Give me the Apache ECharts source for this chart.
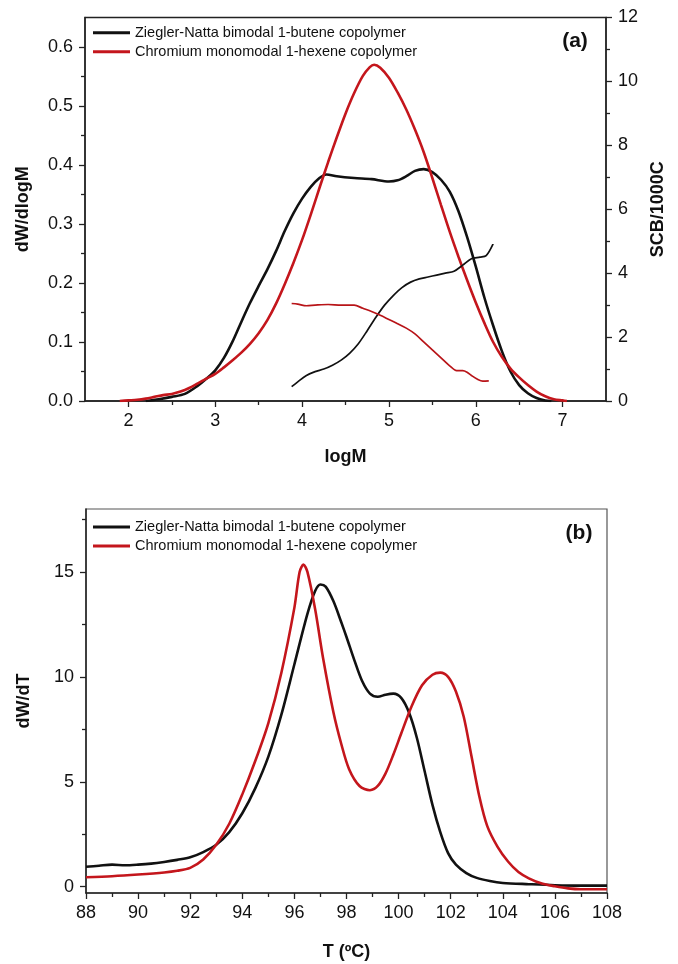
<!DOCTYPE html>
<html>
<head>
<meta charset="utf-8">
<script src="https://cdn.jsdelivr.net/npm/echarts@6/dist/echarts.min.js"></script>
<style>
html,body{margin:0;padding:0;background:#fff;}
#chart{width:678px;height:964px;}
</style>
</head>
<body>
<div id="chart"></div>
<script>
// ---------- DATA ----------
const seriesNames = ['Ziegler-Natta bimodal 1-butene copolymer', 'Chromium monomodal 1-hexene copolymer'];

// Panel (a): molecular weight distribution dW/dlogM vs logM
const znMwd = [[2.2,0],[2.35,0.003],[2.5,0.007],[2.65,0.012],[2.8,0.026],[2.9,0.038],[3.0,0.052],[3.1,0.073],[3.2,0.101],[3.3,0.134],[3.4,0.166],[3.5,0.195],[3.6,0.223],[3.7,0.254],[3.8,0.288],[3.9,0.318],[4.0,0.343],[4.1,0.363],[4.2,0.378],[4.28,0.384],[4.4,0.381],[4.6,0.378],[4.8,0.376],[5.0,0.372],[5.1,0.374],[5.2,0.381],[5.3,0.39],[5.4,0.393],[5.5,0.388],[5.6,0.375],[5.7,0.355],[5.8,0.322],[5.9,0.278],[6.0,0.228],[6.1,0.175],[6.2,0.128],[6.3,0.085],[6.4,0.05],[6.5,0.027],[6.6,0.013],[6.7,0.005],[6.8,0.001],[6.87,0]];
const crMwd = [[1.9,0],[2.0,0.001],[2.1,0.002],[2.2,0.004],[2.3,0.007],[2.4,0.01],[2.5,0.012],[2.6,0.016],[2.7,0.022],[2.8,0.03],[2.9,0.038],[3.0,0.046],[3.1,0.057],[3.2,0.069],[3.3,0.082],[3.4,0.097],[3.5,0.115],[3.6,0.137],[3.7,0.165],[3.8,0.198],[3.9,0.234],[4.0,0.273],[4.1,0.316],[4.2,0.361],[4.3,0.405],[4.4,0.447],[4.5,0.487],[4.6,0.522],[4.7,0.551],[4.78,0.566],[4.83,0.57],[4.9,0.565],[5.0,0.548],[5.1,0.523],[5.2,0.494],[5.3,0.46],[5.4,0.422],[5.5,0.378],[5.6,0.332],[5.7,0.287],[5.8,0.245],[5.9,0.205],[6.0,0.167],[6.1,0.132],[6.2,0.1],[6.3,0.075],[6.4,0.055],[6.5,0.04],[6.6,0.027],[6.7,0.016],[6.8,0.008],[6.9,0.003],[7.0,0.001],[7.05,0]];
// Panel (a): short chain branching SCB/1000C vs logM (right axis)
const znScb = [[3.88,0.45],[3.95,0.6],[4.05,0.8],[4.15,0.92],[4.25,1.0],[4.35,1.12],[4.45,1.28],[4.55,1.5],[4.65,1.8],[4.75,2.2],[4.85,2.62],[4.95,3.0],[5.05,3.3],[5.15,3.55],[5.25,3.72],[5.35,3.82],[5.45,3.88],[5.55,3.94],[5.65,4.0],[5.75,4.06],[5.85,4.25],[5.95,4.45],[6.05,4.5],[6.12,4.55],[6.2,4.92]];
const crScb = [[3.88,3.05],[3.95,3.03],[4.05,2.98],[4.15,3.0],[4.3,3.02],[4.45,3.0],[4.6,3.0],[4.7,2.9],[4.8,2.8],[4.9,2.68],[5.0,2.55],[5.1,2.42],[5.2,2.28],[5.3,2.1],[5.4,1.85],[5.5,1.6],[5.6,1.35],[5.7,1.1],[5.78,0.95],[5.85,0.95],[5.9,0.9],[5.95,0.8],[6.02,0.68],[6.08,0.62],[6.15,0.63]];

// Panel (b): TREF dW/dT vs T
const znTref = [[88,0.95],[88.5,1.0],[89,1.05],[89.5,1.02],[90,1.05],[90.5,1.1],[91,1.18],[91.5,1.28],[92,1.4],[92.5,1.65],[93,2.0],[93.5,2.6],[94,3.5],[94.5,4.7],[95,6.2],[95.5,8.2],[96,10.6],[96.5,13.0],[96.8,14.1],[97,14.4],[97.2,14.3],[97.5,13.6],[97.8,12.6],[98,11.9],[98.3,10.8],[98.6,9.8],[98.9,9.2],[99.2,9.05],[99.5,9.15],[99.8,9.2],[100.1,9.0],[100.4,8.3],[100.7,7.1],[101.0,5.5],[101.3,3.9],[101.6,2.6],[101.9,1.6],[102.2,1.05],[102.6,0.65],[103,0.42],[103.5,0.27],[104,0.18],[105,0.12],[106,0.07],[107,0.05],[108,0.05]];
const crTref = [[88,0.45],[89,0.5],[90,0.58],[91,0.68],[91.5,0.76],[92,0.9],[92.5,1.3],[93,2.0],[93.5,3.0],[94,4.4],[94.5,6.0],[95,7.8],[95.5,10.2],[96,13.3],[96.2,15.0],[96.35,15.35],[96.5,15.0],[96.8,13.2],[97.1,10.9],[97.5,8.3],[97.8,6.8],[98.1,5.6],[98.5,4.8],[98.9,4.6],[99.2,4.8],[99.5,5.4],[99.8,6.3],[100.1,7.3],[100.5,8.6],[100.9,9.6],[101.3,10.1],[101.6,10.2],[101.9,10.0],[102.2,9.3],[102.5,8.1],[102.8,6.2],[103.1,4.3],[103.4,2.9],[103.8,1.9],[104.2,1.2],[104.6,0.7],[105,0.4],[105.5,0.15],[106,0.02],[106.5,-0.08],[107,-0.12],[108,-0.12]];

// Tick values
const aXLabels = [2,3,4,5,6,7];
const aXMinor = [2.5,3.5,4.5,5.5,6.5];
const aYLabels = [0,0.1,0.2,0.3,0.4,0.5,0.6];
const aYMinor = [0.05,0.15,0.25,0.35,0.45,0.55];
const bYLabels = [0,5,10,15];
const bYMinor = [2.5,7.5,12.5,17.5];

// ---------- CHART ----------
const FONT = '"Liberation Sans", Arial, sans-serif';
const BLACK = '#111111';
const RED = '#c4161c';
const AX = '#222222';
const LABEL_SIZE = 18;

const chart = echarts.init(document.getElementById('chart'), null, {renderer:'canvas'});

function baseAxis(extra){
  return Object.assign({
    type:'value',
    splitLine:{show:false},
    axisLine:{show:true, onZero:false, lineStyle:{color:AX, width:1.5}},
    axisTick:{show:true, inside:false, length:6, lineStyle:{color:AX, width:1.3}},
    axisLabel:{color:'#111', fontSize:LABEL_SIZE, fontFamily:FONT},
    nameTextStyle:{color:'#111', fontSize:18, fontWeight:'bold', fontFamily:FONT}
  }, extra);
}
function minorAxis(extra, vals){
  return Object.assign({
    type:'value',
    splitLine:{show:false},
    axisLine:{show:false},
    axisLabel:{show:false},
    axisTick:{show:true, inside:false, length:4, customValues: vals, lineStyle:{color:AX, width:1.3}}
  }, extra);
}
const lbl = (extra) => Object.assign({color:'#111', fontSize:LABEL_SIZE, fontFamily:FONT}, extra);

const option = {
  animation:false,
  backgroundColor:'#fff',
  grid:[
    {left:85, width:521, top:17.5, height:383.5, show:true, borderColor:'#222', borderWidth:1.3, backgroundColor:'transparent'},
    {left:86, width:521, top:509, height:384, show:true, borderColor:'#555', borderWidth:1.2, backgroundColor:'transparent'}
  ],
  legend:[
    {left:93, top:24.7, orient:'vertical', padding:0, itemWidth:37, itemHeight:3, itemGap:3, icon:'rect',
     data:seriesNames, selectedMode:false, textStyle:{fontSize:14.5, color:'#111', fontFamily:FONT, lineHeight:16}},
    {left:93, top:519, orient:'vertical', padding:0, itemWidth:37, itemHeight:3, itemGap:3, icon:'rect',
     data:seriesNames, selectedMode:false, textStyle:{fontSize:14.5, color:'#111', fontFamily:FONT, lineHeight:16}}
  ],
  xAxis:[
    baseAxis({gridIndex:0, position:'bottom', min:1.5, max:7.5,
      axisLabel:lbl({margin:11, customValues:aXLabels}),
      axisTick:{show:true, length:6, customValues:aXLabels, lineStyle:{color:AX, width:1.3}},
      name:'logM', nameLocation:'middle', nameGap:47}),
    minorAxis({gridIndex:0, position:'bottom', min:1.5, max:7.5}, aXMinor),
    baseAxis({gridIndex:1, position:'bottom', min:88, max:108, interval:2,
      axisLabel:lbl({margin:11}),
      minorTick:{show:true, splitNumber:2, length:4, lineStyle:{color:AX, width:1.3}},
      name:'T (ºC)', nameLocation:'middle', nameGap:50})
  ],
  yAxis:[
    baseAxis({gridIndex:0, position:'left', min:0, max:0.65,
      axisLabel:lbl({margin:12, customValues:aYLabels, formatter:v=>v.toFixed(1)}),
      axisTick:{show:true, length:6, customValues:aYLabels, lineStyle:{color:AX, width:1.3}},
      name:'dW/dlogM', nameLocation:'middle', nameGap:53}),
    minorAxis({gridIndex:0, position:'left', min:0, max:0.65}, aYMinor),
    baseAxis({gridIndex:0, position:'right', min:0, max:12, interval:2,
      axisLabel:lbl({margin:12}),
      minorTick:{show:true, splitNumber:2, length:4, lineStyle:{color:AX, width:1.3}},
      name:'SCB/1000C', nameLocation:'middle', nameGap:38}),
    baseAxis({gridIndex:1, position:'left', min:-0.3, max:18,
      axisLabel:lbl({margin:12, customValues:bYLabels}),
      axisTick:{show:true, length:6, customValues:bYLabels, lineStyle:{color:AX, width:1.3}},
      name:'dW/dT', nameLocation:'middle', nameGap:53}),
    minorAxis({gridIndex:1, position:'left', min:-0.3, max:18}, bYMinor)
  ],
  series:[
    {name:seriesNames[0], type:'line', xAxisIndex:0, yAxisIndex:0, data:znMwd, showSymbol:false, smooth:0.3, color:BLACK, lineStyle:{width:2.6, color:BLACK}},
    {name:seriesNames[1], type:'line', xAxisIndex:0, yAxisIndex:0, data:crMwd, showSymbol:false, smooth:0.3, color:RED, lineStyle:{width:2.6, color:RED}},
    {name:'ZN SCB', type:'line', xAxisIndex:0, yAxisIndex:2, data:znScb, showSymbol:false, smooth:0.3, lineStyle:{width:1.7, color:BLACK}},
    {name:'Cr SCB', type:'line', xAxisIndex:0, yAxisIndex:2, data:crScb, showSymbol:false, smooth:0.3, lineStyle:{width:1.7, color:'#b81418'}},
    {name:seriesNames[0], type:'line', xAxisIndex:2, yAxisIndex:3, data:znTref, showSymbol:false, smooth:0.3, color:BLACK, lineStyle:{width:2.6, color:BLACK}},
    {name:seriesNames[1], type:'line', xAxisIndex:2, yAxisIndex:3, data:crTref, showSymbol:false, smooth:0.3, color:RED, lineStyle:{width:2.6, color:RED}}
  ],
  graphic:[
    {type:'text', x:575, y:41, style:{text:'(a)', fontSize:21, fontWeight:'bold', fontFamily:FONT, fill:'#111', align:'center', verticalAlign:'middle'}},
    {type:'text', x:579, y:533, style:{text:'(b)', fontSize:21, fontWeight:'bold', fontFamily:FONT, fill:'#111', align:'center', verticalAlign:'middle'}}
  ]
};
chart.setOption(option);
</script>
</body>
</html>
